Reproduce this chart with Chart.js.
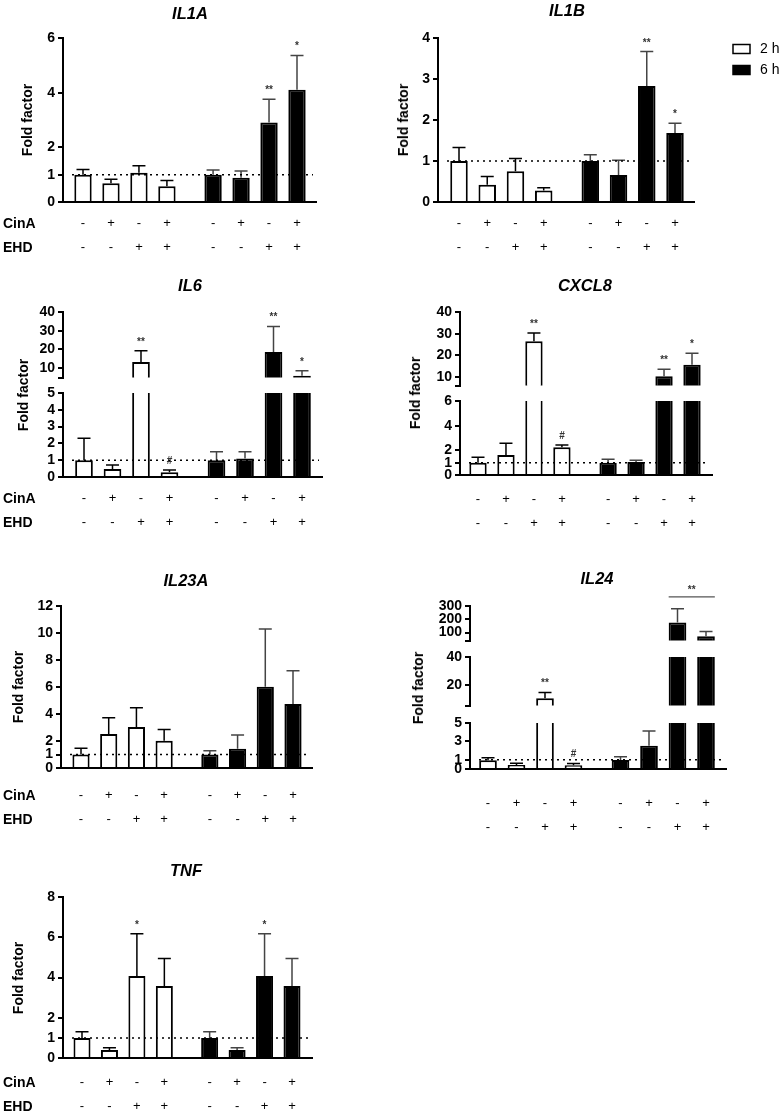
<!DOCTYPE html>
<html>
<head>
<meta charset="utf-8">
<script src="https://cdn.jsdelivr.net/npm/chart.js@4.4.0/dist/chart.umd.min.js"></script>
<style>
body { margin: 0; background: #fff; width: 782px; height: 1112px; position: relative; overflow: hidden; font-family: "Liberation Sans", Arial, sans-serif; }
.box { position: absolute; }
.box canvas { display: block; }
.t { position: absolute; white-space: nowrap; color: #000; font-weight: bold; }
</style>
</head>
<body>
<script>
// x positions of the 8 bars (4 x 2 h, gap, 4 x 6 h) and the two treatment rows
var xPos = [1, 2, 3, 4, 5.65, 6.65, 7.65, 8.65];
var cinA = ['-', '+', '-', '+', '-', '+', '-', '+'];
var ehd  = ['-', '-', '+', '+', '-', '-', '+', '+'];
var seriesNames = ['2 h', '6 h'];

var il1aMean = [1.0, 0.69, 1.07, 0.58, 1.0, 0.89, 2.91, 4.11];
var il1aErr  = [1.19, 0.83, 1.33, 0.79, 1.17, 1.13, 3.76, 5.36];
var il1aSig  = ['', '', '', '', '', '', '**', '*'];
var il1aTicks = [0, 1, 2, 4, 6];

var il1bMean = [1.0, 0.42, 0.75, 0.28, 1.0, 0.66, 2.83, 1.68];
var il1bErr  = [1.33, 0.62, 1.06, 0.35, 1.15, 1.02, 3.67, 1.92];
var il1bSig  = ['', '', '', '', '', '', '**', '*'];
var il1bTicks = [0, 1, 2, 3, 4];

var il6Mean = [1.0, 0.47, 13.3, 0.28, 1.0, 1.1, 18.6, 6.0];
var il6Err  = [2.3, 0.71, 19.3, 0.42, 1.5, 1.5, 32.3, 8.6];
var il6Sig  = ['', '', '**', '#', '', '', '**', '*'];
var il6TicksHigh = [10, 20, 30, 40];
var il6TicksLow  = [0, 1, 2, 3, 4, 5];

var cxcl8Mean = [1.0, 1.63, 26.5, 2.25, 1.0, 1.05, 10.3, 15.6];
var cxcl8Err  = [1.44, 2.58, 30.3, 2.44, 1.28, 1.2, 13.6, 20.9];
var cxcl8Sig  = ['', '', '**', '#', '', '', '**', '*'];
var cxcl8TicksHigh = [10, 20, 30, 40];
var cxcl8TicksLow  = [0, 1, 2, 4, 6];

var il23aMean = [1.0, 2.52, 3.04, 2.02, 1.0, 1.43, 6.02, 4.74];
var il23aErr  = [1.46, 3.73, 4.47, 2.86, 1.28, 2.44, 10.3, 7.2];
var il23aSig  = ['', '', '', '', '', '', '', ''];
var il23aTicks = [0, 1, 2, 4, 6, 8, 10, 12];

var il24Mean = [0.95, 0.43, 10.3, 0.4, 0.98, 2.53, 176, 73];
var il24Err  = [1.23, 0.62, 14.5, 0.6, 1.34, 4.13, 279, 109];
var il24Sig  = ['', '', '**', '#', '', '', '', ''];
var il24Bracket = { from: 6, to: 7, text: '**' };
var il24TicksHigh = [100, 200, 300];
var il24TicksMid  = [20, 40];
var il24TicksLow  = [0, 1, 3, 5];

var tnfMean = [1.0, 0.4, 4.08, 3.58, 1.0, 0.4, 4.08, 3.58];
var tnfErr  = [1.31, 0.51, 6.18, 4.94, 1.31, 0.51, 6.18, 4.94];
var tnfSig  = ['', '', '*', '', '', '', '*', ''];
var tnfTicks = [0, 1, 2, 4, 6, 8];

var FONT = '"Liberation Sans", Arial, sans-serif';

var panels = [
    { title: 'IL1A', mean: il1aMean, err: il1aErr, sig: il1aSig, ax: 63, ar: 316, b1: 83, b8: 297,
      tx: 190, ty: 13, fx: 27, fy: 120, rowPad: 10, rowNames: 223, R: 20,
      segs: [{ min: 0, max: 6, ticks: il1aTicks, top: 38, bottom: 202 }] },
    { title: 'IL1B', mean: il1bMean, err: il1bErr, sig: il1bSig, ax: 438, ar: 694, b1: 459, b8: 675,
      tx: 567, ty: 10, fx: 403, fy: 120, rowPad: 10, legend: true, R: 90,
      segs: [{ min: 0, max: 4, ticks: il1bTicks, top: 38, bottom: 202 }] },
    { title: 'IL6', mean: il6Mean, err: il6Err, sig: il6Sig, ax: 63, ar: 322, b1: 84, b8: 302,
      tx: 190, ty: 285, fx: 23, fy: 395, rowPad: 10, rowNames: 498, R: 20,
      segs: [{ min: 5, max: 40, ticks: il6TicksHigh, top: 312, bottom: 379 },
             { min: 0, max: 5, ticks: il6TicksLow, top: 393, bottom: 477 }] },
    { title: 'CXCL8', mean: cxcl8Mean, err: cxcl8Err, sig: cxcl8Sig, ax: 460, ar: 712, b1: 478, b8: 692,
      tx: 585, ty: 285, fx: 415, fy: 393, rowPad: 13, R: 20,
      segs: [{ min: 6, max: 40, ticks: cxcl8TicksHigh, top: 312, bottom: 387 },
             { min: 0, max: 6, ticks: cxcl8TicksLow, top: 401, bottom: 475 }] },
    { title: 'IL23A', mean: il23aMean, err: il23aErr, sig: il23aSig, ax: 61, ar: 312, b1: 81, b8: 293,
      tx: 186, ty: 580, fx: 18, fy: 687, rowPad: 16, rowNames: 795, R: 20,
      segs: [{ min: 0, max: 12, ticks: il23aTicks, top: 606, bottom: 768 }] },
    { title: 'IL24', mean: il24Mean, err: il24Err, sig: il24Sig, bracket: il24Bracket, ax: 470, ar: 726, b1: 488, b8: 706,
      tx: 597, ty: 578, fx: 418, fy: 688, rowPad: 23, R: 20,
      segs: [{ min: 40, max: 300, ticks: il24TicksHigh, top: 606, bottom: 642 },
             { min: 5, max: 40, ticks: il24TicksMid, top: 657, bottom: 707 },
             { min: 0, max: 5, ticks: il24TicksLow, top: 723, bottom: 769 }] },
    { title: 'TNF', mean: tnfMean, err: tnfErr, sig: tnfSig, ax: 63, ar: 312, b1: 82, b8: 292,
      tx: 186, ty: 870, fx: 18, fy: 978, rowPad: 13, rowNames: 1082, R: 20,
      segs: [{ min: 0, max: 8, ticks: tnfTicks, top: 897, bottom: 1058 }] }
];

// upward error bars with a cap, kept inside the chart area
var errorBars = {
    id: 'errorBars',
    afterDatasetsDraw: function(chart) {
        var ctx = chart.ctx, a = chart.chartArea, ys = chart.scales.y;
        ctx.save();
        ctx.beginPath();
        ctx.rect(a.left, a.top - 2, a.right - a.left, a.bottom - a.top + 2);
        ctx.clip();
        chart.data.datasets.forEach(function(ds, d) {
            chart.getDatasetMeta(d).data.forEach(function(bar, i) {
                var top = ys.getPixelForValue(ds.errors[i]);
                ctx.strokeStyle = ds.errColor;
                ctx.lineWidth = 1.5;
                ctx.beginPath();
                ctx.moveTo(bar.x, bar.y);
                ctx.lineTo(bar.x, top);
                ctx.moveTo(bar.x - 6.5, top);
                ctx.lineTo(bar.x + 6.5, top);
                ctx.stroke();
            });
        });
        ctx.restore();
    }
};

function makeMarks(p, isTop) {
    return {
        id: 'marks',
        afterDatasetsDraw: function(chart) {
            var ctx = chart.ctx, a = chart.chartArea, ys = chart.scales.y;
            function inSeg(v) { return v >= ys.min && (v <= ys.max || isTop); }
            function barAt(k) { return chart.getDatasetMeta(k < 4 ? 0 : 1).data[k % 4]; }
            ctx.save();
            if (ys.min <= 1 && ys.max >= 1) {
                var y1 = ys.getPixelForValue(1);
                ctx.setLineDash([2, 4]);
                ctx.lineWidth = 1.5;
                ctx.strokeStyle = '#000';
                ctx.beginPath();
                ctx.moveTo(a.left + 9, y1);
                ctx.lineTo(a.right - 3, y1);
                ctx.stroke();
                ctx.setLineDash([]);
            }
            ctx.fillStyle = '#333';
            ctx.font = 'bold 10px ' + FONT;
            ctx.textAlign = 'center';
            ctx.textBaseline = 'alphabetic';
            p.sig.forEach(function(t, k) {
                if (!t || !inSeg(p.err[k])) return;
                ctx.fillText(t, barAt(k).x, ys.getPixelForValue(p.err[k]) - 6);
            });
            if (p.bracket) {
                var b = p.bracket;
                var e = Math.max(p.err[b.from], p.err[b.to]);
                if (inSeg(e)) {
                    var ba = barAt(b.from), bb = barAt(b.to);
                    var yb = ys.getPixelForValue(e) - 12;
                    ctx.strokeStyle = '#555';
                    ctx.lineWidth = 1.2;
                    ctx.beginPath();
                    ctx.moveTo(ba.x - ba.width / 2, yb);
                    ctx.lineTo(bb.x + bb.width / 2, yb);
                    ctx.stroke();
                    ctx.fillText(b.text, (ba.x + bb.x) / 2, yb - 4);
                }
            }
            ctx.restore();
        }
    };
}

var legendBox = {
    id: 'legendBox',
    afterDraw: function(chart) {
        var ctx = chart.ctx, a = chart.chartArea;
        ctx.save();
        chart.data.datasets.forEach(function(ds, d) {
            var x = a.right + 39, y = a.top + 11 + d * 21;
            ctx.fillStyle = ds.backgroundColor;
            ctx.strokeStyle = '#000';
            ctx.lineWidth = 1.5;
            ctx.fillRect(x, y - 4.5, 17, 9);
            ctx.strokeRect(x, y - 4.5, 17, 9);
            ctx.fillStyle = '#000';
            ctx.font = '14px ' + FONT;
            ctx.textBaseline = 'middle';
            ctx.fillText(ds.label, x + 27, y);
        });
        ctx.restore();
    }
};

function makeSegment(p, s, isTop, isBottom) {
    var W = 50, T = 30;
    var XH = isBottom ? 75 : 0;
    var B = isBottom ? 0 : 10;
    var div = document.createElement('div');
    div.className = 'box';
    div.style.left = (p.ax - W) + 'px';
    div.style.top = (s.top - T) + 'px';
    div.style.width = (p.ar - p.ax + W + p.R) + 'px';
    div.style.height = (s.bottom - s.top + T + XH + B) + 'px';
    var cv = document.createElement('canvas');
    div.appendChild(cv);
    document.body.appendChild(div);

    var unit = (p.b8 - p.b1) / (xPos[7] - xPos[0]);
    var xmin = xPos[0] - (p.b1 - p.ax) / unit;
    var xmax = xPos[7] + (p.ar - p.b8) / unit;
    var tickVals = s.ticks.indexOf(s.min) >= 0 ? s.ticks : [s.min].concat(s.ticks);

    var datasets = [0, 1].map(function(d) {
        return {
            label: seriesNames[d],
            data: xPos.slice(d * 4, d * 4 + 4).map(function(x, i) { return { x: x, y: p.mean[d * 4 + i] }; }),
            errors: p.err.slice(d * 4, d * 4 + 4),
            errColor: d ? '#444' : '#000',
            backgroundColor: d ? '#000' : '#fff',
            borderColor: '#000',
            borderWidth: 2,
            borderSkipped: 'start',
            barPercentage: 0.62,
            categoryPercentage: 1,
            grouped: false,
            clip: 0
        };
    });

    var plugins = [errorBars, makeMarks(p, isTop)];
    if (p.legend) plugins.push(legendBox);

    return new Chart(cv, {
        type: 'bar',
        data: { datasets: datasets },
        plugins: plugins,
        options: {
            responsive: true,
            maintainAspectRatio: false,
            animation: false,
            events: [],
            layout: { padding: { left: 0, right: p.R, top: T, bottom: B } },
            plugins: { legend: { display: false }, tooltip: { enabled: false }, title: { display: false } },
            scales: {
                x: {
                    type: 'linear',
                    display: isBottom,
                    offset: false,
                    min: xmin,
                    max: xmax,
                    afterBuildTicks: function(sc) { sc.ticks = xPos.map(function(v) { return { value: v }; }); },
                    afterFit: function(sc) { sc.height = XH; },
                    ticks: {
                        autoSkip: false,
                        maxRotation: 0,
                        padding: p.rowPad,
                        color: '#000',
                        font: { family: FONT, size: 13, lineHeight: 1.8 },
                        callback: function(v, i) { return [cinA[i], ehd[i]]; }
                    },
                    grid: { display: false, drawTicks: false, offset: false },
                    border: { display: true, color: '#000', width: 2 }
                },
                y: {
                    type: 'linear',
                    min: s.min,
                    max: s.max,
                    afterBuildTicks: function(sc) { sc.ticks = tickVals.map(function(v) { return { value: v }; }); },
                    afterFit: function(sc) { sc.width = W; },
                    ticks: {
                        autoSkip: false,
                        padding: 3,
                        color: '#000',
                        font: { family: FONT, size: 14, weight: 'bold' },
                        callback: function(v) { return s.ticks.indexOf(v) >= 0 ? String(v) : ''; }
                    },
                    grid: { display: true, drawOnChartArea: false, drawTicks: true, tickLength: 5, color: '#000', lineWidth: 2 },
                    border: { display: true, color: '#000', width: 2 }
                }
            }
        }
    });
}

function addText(txt, x, y, css) {
    var el = document.createElement('div');
    el.className = 't';
    el.textContent = txt;
    el.style.cssText += css;
    el.style.left = x + 'px';
    el.style.top = y + 'px';
    document.body.appendChild(el);
}

panels.forEach(function(p) {
    p.segs.forEach(function(s, k) {
        makeSegment(p, s, k === 0, k === p.segs.length - 1);
    });
    addText(p.title, p.tx, p.ty, 'font-size:16.5px;font-style:italic;transform:translate(-50%,-50%);');
    addText('Fold factor', p.fx, p.fy, 'font-size:14px;transform:translate(-50%,-50%) rotate(-90deg);');
    if (p.rowNames) {
        addText('CinA', 3, p.rowNames, 'font-size:14px;transform:translateY(-50%);');
        addText('EHD', 3, p.rowNames + 24, 'font-size:14px;transform:translateY(-50%);');
    }
});
</script>
</body>
</html>
